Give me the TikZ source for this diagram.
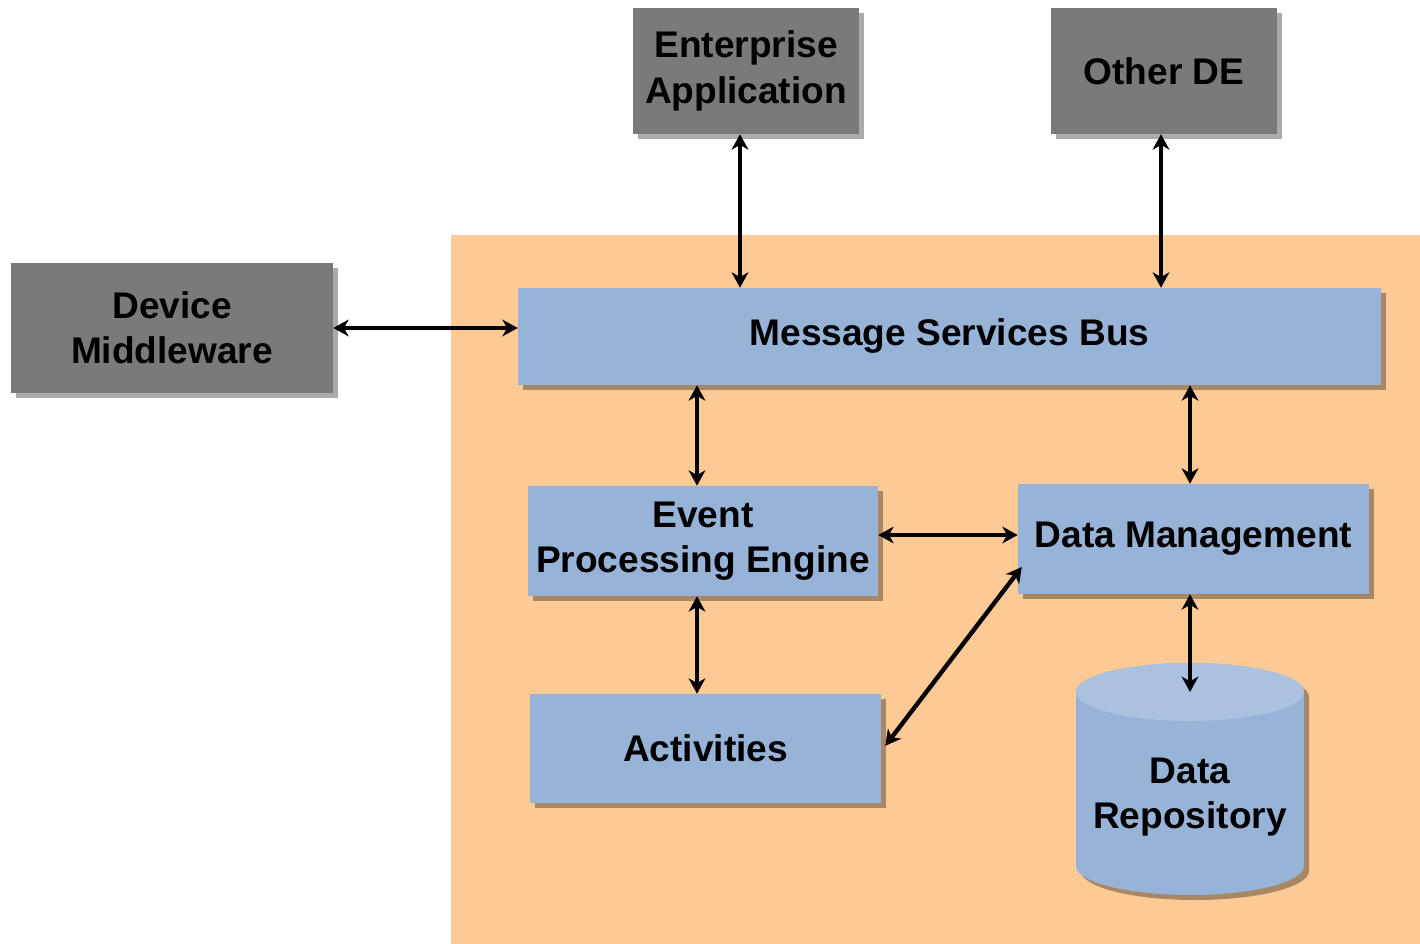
\documentclass[tikz,border=0pt]{standalone}
\usepackage{fontspec}
\setmainfont{Liberation Sans}
\usetikzlibrary{arrows.meta,shadows}
\definecolor{zone}{HTML}{FDCA96}
\definecolor{boxblue}{HTML}{97B3D8}
\definecolor{boxtop}{HTML}{AAC2E0}
\definecolor{boxgray}{HTML}{7A7A7A}
\tikzset{
  label font/.style={font=\fontsize{27.8}{34}\selectfont\bfseries},
  base/.style={rectangle, inner sep=0pt, align=center, label font,
    drop shadow={shadow xshift=3.8pt, shadow yshift=-3.8pt, fill=black, opacity=0.33}},
  outer/.style={base, fill=boxgray},
  inner/.style={base, fill=boxblue},
  link/.style={line width=3.3pt, {Stealth[length=11.5pt,width=12.5pt,inset=3.5pt]}-{Stealth[length=11.5pt,width=12.5pt,inset=3.5pt]}}
}
\begin{document}
\begin{tikzpicture}[x=0.75pt,y=-0.75pt]
\useasboundingbox (0,0) rectangle (1420,944);
% system zone
\fill[zone] (451,235) rectangle (1420,944);

% external components
\node[outer, minimum width=169.5pt, minimum height=94.5pt] (ea) at (746,71) {Enterprise\\Application};
\node[outer, minimum width=169.5pt, minimum height=94.5pt] (ode) at (1164,71) {Other DE};
\node[outer, minimum width=241.5pt, minimum height=97.5pt] (dmw) at (172,328) {Device\\Middleware};

% internal components
\node[inner, minimum width=647.25pt, minimum height=72.75pt] (msb) at (949.5,336.5) {Message Services Bus};
\node[inner, minimum width=262.5pt, minimum height=82.5pt] (epe) at (703,541) {Event\\Processing Engine};
\node[inner, minimum width=263.25pt, minimum height=82.5pt] (dm) at (1193.5,539) {Data Management};
\node[inner, minimum width=263.25pt, minimum height=81.75pt] (act) at (705.5,748.5) {Activities};

% data repository cylinder (y axis points down, so arcs run the other way)
\fill[black, opacity=0.33] (1081,697) -- (1081,871) arc[start angle=180, end angle=0, x radius=114, y radius=29]
  -- (1309,697) arc[start angle=0, end angle=-180, x radius=114, y radius=29] -- cycle;
\fill[boxblue] (1076,692) -- (1076,866) arc[start angle=180, end angle=0, x radius=114, y radius=29]
  -- (1304,692) arc[start angle=0, end angle=-180, x radius=114, y radius=29] -- cycle;
\fill[boxtop] (1190,692) ellipse[x radius=114, y radius=29];
\coordinate (repotop) at (1190,692);
\node[label font, align=center] (repo) at (1190,797) {Data\\Repository};

% connectors
\draw[link] ([xshift=-4.5pt]ea.south) -- ([xshift=-4.5pt]ea.south |- msb.north);
\draw[link] ([xshift=-2.25pt]ode.south) -- ([xshift=-2.25pt]ode.south |- msb.north);
\draw[link] (dmw.east) -- (dmw.east -| msb.west);
\draw[link] (msb.south -| 697,0) -- (epe.north -| 697,0);
\draw[link] (msb.south -| 1190,0) -- (dm.north -| 1190,0);
\draw[link] (epe.east |- 0,535) -- (dm.west |- 0,535);
\draw[link] (epe.south -| 697,0) -- (act.north -| 697,0);
\draw[link] ([xshift=3pt,yshift=2pt]act.east) -- ([xshift=3pt,yshift=-21pt]dm.west);
\draw[link] (dm.south -| 1190,0) -- (repotop);
\end{tikzpicture}
\end{document}
